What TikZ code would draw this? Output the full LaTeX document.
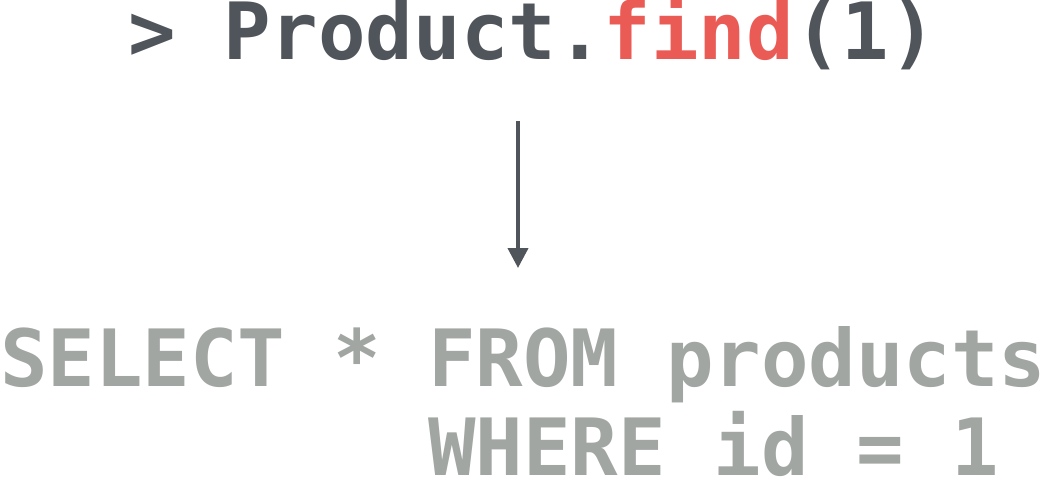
\documentclass[tikz,border=0pt]{standalone}
\usepackage{xcolor}
\usepackage{fontspec}
\setmonofont{DejaVu Sans Mono}
\usepackage{tikz}
\usetikzlibrary{calc,arrows.meta}
\definecolor{codegray}{RGB}{80, 85, 91}
\definecolor{codered}{RGB}{235, 91, 86}
\definecolor{sqlgray}{RGB}{162, 166, 163}

\begin{document}
\begin{tikzpicture}[x=1pt, y=-1pt,
  code/.style={inner sep=0pt, anchor=base west, font=\fontsize{79}{90}\selectfont\ttfamily\bfseries}]
\useasboundingbox (0,0) rectangle (1047,477);

\node[code, text=codegray] (cmd) at (128,59) {> Product.{\color{codered}find}(1)};
\node[code, text=sqlgray] (select) at (0,386) {SELECT * FROM products};
\node[code, text=sqlgray] (where) at (428,475) {WHERE id = 1};

\coordinate (arrowtop) at (518,121);
\coordinate (arrowtip) at (518,268);
\draw[codegray, line width=4pt, -{Triangle[width=20pt,length=20pt]}] (arrowtop) -- (arrowtip);
\end{tikzpicture}
\end{document}
